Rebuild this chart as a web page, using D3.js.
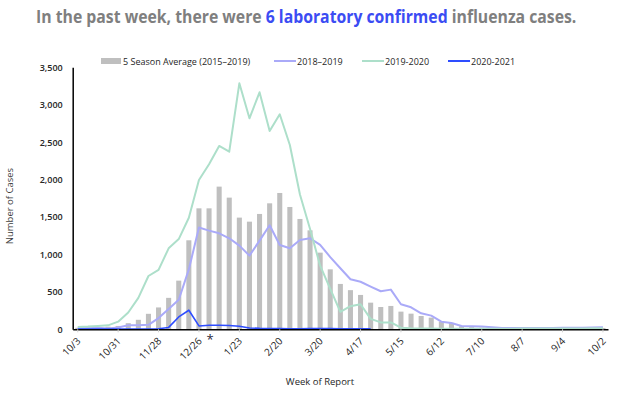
<!DOCTYPE html>
<head>
  <meta charset="UTF-8">
  <title>flu</title>
  <style>
  body{
    margin: 0;
    background: #fff;
  }
  text{
    font-family: "Open Sans", "Noto Sans", sans-serif;
  }
  </style>
</head>
<body>
  <script src="https://cdn.jsdelivr.net/npm/d3@7/dist/d3.min.js"></script>
  <script type="text/javascript">
  // weeks of report
  var weeks = ['10/3','10/10','10/17','10/24','10/31','11/7','11/14','11/21','11/28','12/5','12/12','12/19','12/26',
    '1/2','1/9','1/16','1/23','1/30','2/6','2/13','2/20','2/27','3/6','3/13','3/20','3/27','4/3','4/10','4/17','4/24',
    '5/1','5/8','5/15','5/22','5/29','6/5','6/12','6/19','6/26','7/3','7/10','7/17','7/24','7/31','8/7','8/14','8/21','8/28',
    '9/4','9/11','9/18','9/25','10/2'];
  var tickLabels = ['10/3','10/31','11/28','12/26','1/23','2/20','3/20','4/17','5/15','6/12','7/10','8/7','9/4','10/2'];
  var yTicks = [0, 500, 1000, 1500, 2000, 2500, 3000, 3500];

  // 5 season average (2015-2019)
  var avg5 = [20,25,30,35,45,82,127,207,292,420,650,1189,1616,1616,1906,1759,1492,1438,1541,1683,1821,1634,1474,1322,1024,
    801,606,523,459,356,298,312,236,209,178,156,102,85,40,28,22,18,15,12,12,10,10,10,12,12,14,15,18];
  var s1819 = [15,15,20,12,25,55,55,60,150,270,395,800,1360,1318,1282,1216,1118,984,1184,1389,1127,1082,1193,1216,1127,
    965,815,668,635,570,508,530,334,294,214,183,102,85,45,40,36,27,18,18,18,18,18,18,20,22,22,25,27];
  var s1920 = [31,36,45,53,102,225,420,712,793,1082,1205,1490,1995,2204,2449,2373,3286,2819,3166,2649,2872,2462,1800,1340,850,
    540,232,308,334,140,92,92,22,13,12,10,9,8,8,8,8,8,8,8,10,10,10,10,12,12,12,14,15];
  var s2021 = [5,5,5,5,5,5,5,5,8,25,165,255,45,55,55,50,40,18,12,10,10,8,8,10,10,10,8,8,8,6];

  var width = 630, height = 410;
  var svg = d3.select('body').append('svg')
    .attr('width', width)
    .attr('height', height);

  // title, squeezed horizontally to the reference width
  var tg = svg.append('g');
  var title = tg.append('text')
    .attr('x', 0).attr('y', 0)
    .attr('font-size', 17).attr('font-weight', 700)
    .attr('fill', '#7f7f7f');
  title.append('tspan').text('In the past week, there were ');
  title.append('tspan').attr('fill', '#3b4cf3').text('6 laboratory confirmed');
  title.append('tspan').text(' influenza cases.');
  var tw = title.node().getComputedTextLength();
  tg.attr('transform', 'translate(36,23) scale(' + (541 / tw) + ',1)');

  var x = d3.scaleBand().domain(weeks).range([72.7, 608]);
  var y = d3.scaleLinear().domain([0, 3500]).range([329.3, 67.3]);

  // bars
  svg.append('g').selectAll('rect')
    .data(avg5)
    .enter()
    .append('rect')
    .attr('x', function(d, i){ return x(weeks[i]) + x.bandwidth() * 0.25; })
    .attr('width', x.bandwidth() * 0.5)
    .attr('y', function(d){ return y(d); })
    .attr('height', function(d){ return y(0) - y(d); })
    .attr('fill', '#bfbfbf');

  var line = d3.line()
    .x(function(d, i){ return x(weeks[i]) + x.bandwidth() / 2; })
    .y(function(d){ return y(d); });

  var series = [
    {data: s1819, color: '#aaaaf8', w: 2},
    {data: s1920, color: '#addfca', w: 2},
    {data: s2021, color: '#2e4dff', w: 1.6}
  ];
  svg.append('g').selectAll('path')
    .data(series)
    .enter()
    .append('path')
    .attr('d', function(d){ return line(d.data); })
    .attr('fill', 'none')
    .attr('stroke', function(d){ return d.color; })
    .attr('stroke-width', function(d){ return d.w; })
    .attr('stroke-linejoin', 'round');

  // y axis
  var yAxis = svg.append('g')
    .attr('transform', 'translate(72.7,0)')
    .call(d3.axisLeft(y).tickValues(yTicks).tickFormat(d3.format(',')).tickSize(0).tickPadding(10));
  yAxis.select('.domain').attr('stroke', '#000').attr('stroke-width', 1.5);
  yAxis.selectAll('text').attr('font-size', 9).attr('font-weight', 600).attr('fill', '#262626')
    .style('font-family', '"Open Sans", sans-serif');

  // x axis
  var xAxis = svg.append('g')
    .attr('transform', 'translate(0,329.3)')
    .call(d3.axisBottom(x).tickValues(tickLabels).tickSize(3).tickSizeOuter(0));
  xAxis.select('.domain').attr('stroke', '#000').attr('stroke-width', 1.5);
  xAxis.selectAll('line').attr('stroke', '#d0d0d0');
  xAxis.selectAll('text')
    .attr('font-size', 10).attr('fill', '#262626')
    .style('font-family', '"Open Sans", sans-serif')
    .attr('text-anchor', 'end')
    .attr('x', 0).attr('y', 0)
    .attr('dy', '0.35em')
    .attr('transform', 'translate(1,10) rotate(-45)');

  // asterisk
  svg.append('text')
    .attr('x', x('1/2') + x.bandwidth() / 2 + 1).attr('y', 344)
    .attr('text-anchor', 'middle').attr('font-size', 13).attr('fill', '#2a1f3a')
    .text('*');

  // axis titles
  svg.append('text')
    .attr('x', 320).attr('y', 385)
    .attr('text-anchor', 'middle').attr('font-size', 9.5).attr('fill', '#262626')
    .text('Week of Report');
  svg.append('text')
    .attr('transform', 'translate(13,206) rotate(-90)')
    .attr('text-anchor', 'middle').attr('font-size', 9.5).attr('fill', '#404040')
    .text('Number of Cases');

  // legend
  var lg = svg.append('g').attr('font-size', 9).attr('fill', '#262626');
  lg.append('rect').attr('x', 101).attr('y', 58).attr('width', 20).attr('height', 6).attr('fill', '#bfbfbf');
  lg.append('text').attr('x', 123).attr('y', 64.5).text('5 Season Average (2015–2019)');
  var legItems = [
    {name: '2018–2019', x: 274, color: '#aaaaf8'},
    {name: '2019-2020', x: 362, color: '#addfca'},
    {name: '2020-2021', x: 448, color: '#2e4dff'}
  ];
  legItems.forEach(function(d){
    lg.append('line').attr('x1', d.x).attr('x2', d.x + 22).attr('y1', 61).attr('y2', 61)
      .attr('stroke', d.color).attr('stroke-width', 2);
    lg.append('text').attr('x', d.x + 23).attr('y', 64.5).text(d.name);
  });
  </script>
</body>
</html>
